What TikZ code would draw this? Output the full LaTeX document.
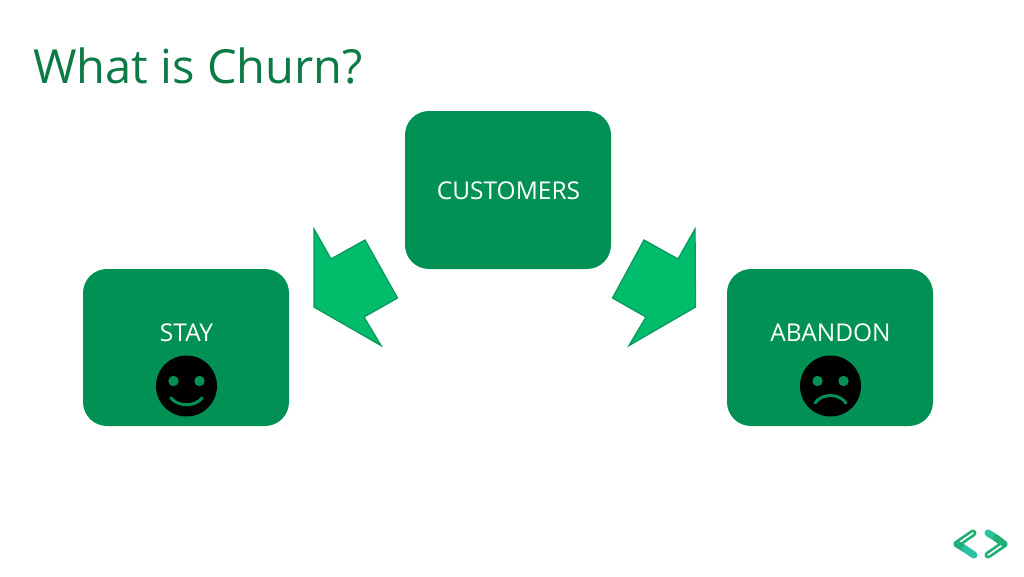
\documentclass[tikz,border=0pt]{standalone}
\usepackage{fontspec}
\setmainfont{Open Sans}
\definecolor{boxg}{HTML}{029155}
\definecolor{arrowg}{HTML}{00BC6B}
\definecolor{arrowe}{HTML}{0A9A5C}
\definecolor{titleg}{HTML}{0B7A45}
\definecolor{logoa}{HTML}{1FAF72}
\definecolor{logob}{HTML}{2CC2A6}
\tikzset{
  x=1pt,y=-1pt,
  box/.style={fill=boxg,draw=none,rounded corners=24pt},
  lab/.style={text=white,font=\fontsize{24.5}{28}\selectfont,inner sep=0pt,anchor=center},
  arr/.style={fill=arrowg,draw=arrowe,line width=1.3pt,line join=miter},
  face/.style={circle,fill=black,minimum size=61pt,inner sep=0pt},
  feat/.style={draw=boxg,line width=3pt,line cap=round},
  eye/.style={fill=boxg,draw=none},
  logo/.style={line width=7pt,line cap=round,line join=round},
  slit/.style={draw=white,line width=1.6pt,line cap=round}
}
\begin{document}
\begin{tikzpicture}
\useasboundingbox (0,0) rectangle (1024,576);
\fill[white] (0,0) rectangle (1024,576);
\node[anchor=base west,inner sep=0pt,text=titleg,font=\fontsize{47}{56}\selectfont] (title) at (33,83) {What is Churn?};
\fill[box] (405,111) rectangle (611,269);
\fill[box] (83,269) rectangle (289,426);
\fill[box] (727,269) rectangle (933,426);
\node[lab] (cust) at (508.5,191) {CUSTOMERS};
\node[lab] (stay) at (186.5,333) {STAY};
\node[lab] (aband) at (830.5,333) {ABANDON};
\draw[arr] (314,229) -- (331,259) -- (365,240) -- (397.5,298) -- (364,317) -- (381,345.5) -- (314,307) -- cycle;
\draw[arr] (695,229) -- (678,259) -- (644,240) -- (612.5,298) -- (646,317) -- (629,345.5) -- (695.5,307) -- cycle;
\node[face] (smile) at (186.5,386) {};
\fill[eye] (173.5,381) circle (5.2pt);
\fill[eye] (199.5,381) circle (5.2pt);
\draw[feat] (171,398) .. controls (178,407) and (195,407) .. (202,398);
\node[face] (frown) at (830.5,386) {};
\fill[eye] (817.5,381) circle (5.2pt);
\fill[eye] (843.5,381) circle (5.2pt);
\draw[feat] (815,403) .. controls (822,393) and (839,393) .. (846,403);
% left chevron
\draw[logo,draw=logoa] (973,533) -- (957,544);
\draw[slit] (973,533) -- (960,542);
\draw[logo,draw=logoa] (957,544) -- (965,549);
\draw[logo,draw=logob] (965,549) -- (974,555);
% right chevron
\draw[logo,draw=logob] (988,533) -- (996,538);
\draw[logo,draw=logoa] (996,538) -- (1004,544);
\draw[logo,draw=logoa] (1004,544) -- (988,555);
\draw[slit] (1001,546) -- (988,555);
\end{tikzpicture}
\end{document}
